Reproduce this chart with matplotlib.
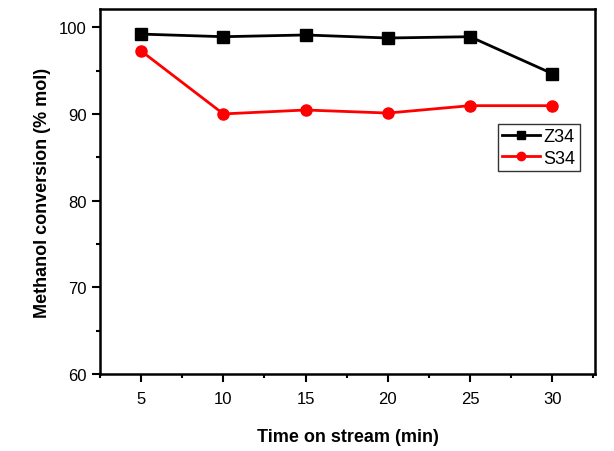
import matplotlib.pyplot as plt
from matplotlib.ticker import MultipleLocator

plt.rcParams['font.family'] = ['Liberation Sans', 'DejaVu Sans']

tiempo = [5, 10, 15, 20, 25, 30]
z34 = [99.2, 98.9, 99.1, 98.75, 98.9, 94.65]
s34 = [97.25, 90.0, 90.45, 90.1, 90.95, 90.95]

fig = plt.figure(figsize=(6.14, 4.52), dpi=100)
ax = fig.add_axes([0.163, 0.170, 0.806, 0.808])

ax.plot(tiempo, z34, color='black', marker='s', markersize=8, linewidth=2, label='Z34')
ax.plot(tiempo, s34, color='red', marker='o', markersize=8, linewidth=2, label='S34')

ax.set_xlim(2.5, 32.6)
ax.set_ylim(60, 102.1)
ax.xaxis.set_major_locator(MultipleLocator(5))
ax.xaxis.set_minor_locator(MultipleLocator(2.5))
ax.yaxis.set_major_locator(MultipleLocator(10))
ax.yaxis.set_minor_locator(MultipleLocator(5))
ax.tick_params(which='both', direction='out', width=1.5, labelsize=12)
ax.tick_params(axis='x', pad=6)
ax.tick_params(which='major', length=6)
ax.tick_params(which='minor', length=3)
for s in ax.spines.values():
    s.set_linewidth(1.8)

ax.set_xlabel('Time on stream (min)', fontsize=13, fontweight='bold', labelpad=16)
ax.set_ylabel('Methanol conversion (% mol)', fontsize=13, fontweight='bold', labelpad=6)

leg = ax.legend(loc='lower right', bbox_to_anchor=(0.97, 0.556), fontsize=13,
                frameon=True, fancybox=False, edgecolor='black', markerscale=0.75,
                handlelength=2.1, borderpad=0.25, labelspacing=0.25, handletextpad=0.2,
                borderaxespad=0)
leg.get_frame().set_linewidth(1)

fig.savefig('out.png', dpi=100)
